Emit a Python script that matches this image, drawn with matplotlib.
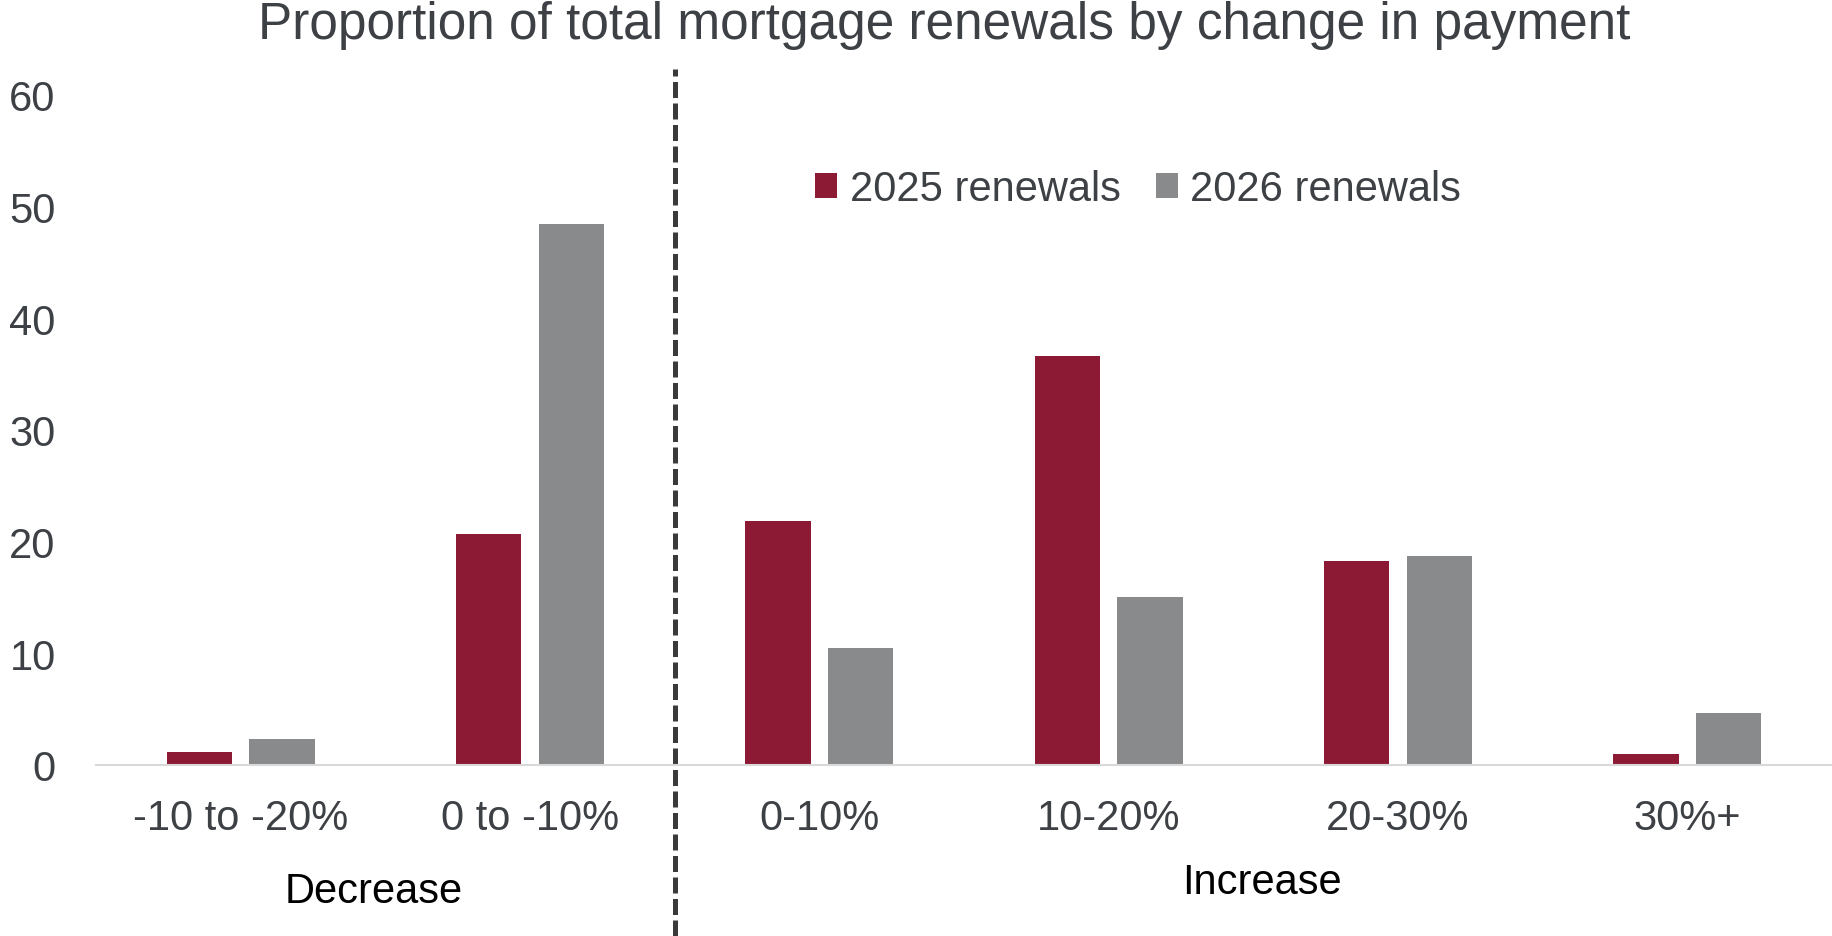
import numpy as np
import matplotlib
matplotlib.use("Agg")
import matplotlib.pyplot as plt

plt.rcParams['font.family'] = ['Liberation Sans', 'DejaVu Sans']

categories = ['-10 to -20%', '0 to -10%', '0-10%', '10-20%', '20-30%', '30%+']
renewals_2025 = [1.2, 20.7, 21.8, 36.6, 18.3, 1.0]
renewals_2026 = [2.3, 48.4, 10.5, 15.0, 18.7, 4.7]
series_labels = ['2025 renewals', '2026 renewals']
group_labels = ['Decrease', 'Increase']

red = '#8C1A35'
grey = '#898A8C'
txt = '#3d4044'

fig = plt.figure(figsize=(18.32, 9.37), dpi=100)
ax = fig.add_axes([96 / 1832, 1 - 766 / 937, 1 - 96 / 1832, (766 - 95.8) / 937])

x = np.arange(len(categories))
w = 0.226
off = 0.143
ax.bar(x - off, renewals_2025, w, color=red, label=series_labels[0])
ax.bar(x + off, renewals_2026, w, color=grey, label=series_labels[1])

ax.set_xlim(-0.5, len(categories) - 0.5)
ax.set_ylim(0, 60)
ax.set_yticks(np.arange(0, 61, 10))
ax.set_xticks(x)
ax.set_xticklabels(categories)
ax.tick_params(axis='both', length=0, labelsize=30, colors=txt)
ax.tick_params(axis='x', pad=24)
ax.tick_params(axis='y', pad=29)
for s in ['top', 'right', 'left']:
    ax.spines[s].set_visible(False)
ax.spines['bottom'].set_color('#d9d9d9')
ax.spines['bottom'].set_linewidth(1.5)

# divider between decrease / increase
ax.axvline(1.5, ymin=-0.255, ymax=1.0385, color='#3a3a3a', lw=3.6,
           linestyle=(0, (3.2, 1.1)), clip_on=False)

fig.text(944 / 1832, 1 - 25 / 937,
         'Proportion of total mortgage renewals by change in payment',
         ha='center', va='center', fontsize=37, color=txt)
fig.text(374 / 1832, 1 - 892 / 937, group_labels[0], ha='center', va='center',
         fontsize=30, color='black')
fig.text(1262 / 1832, 1 - 883 / 937, group_labels[1], ha='center', va='center',
         fontsize=30, color='black')

leg = fig.legend(loc='center left', bbox_to_anchor=(815 / 1832, 1 - 190 / 937),
                 ncol=2, frameon=False, fontsize=30, handlelength=0.53,
                 handleheight=0.53, handletextpad=0.3, columnspacing=0.85,
                 borderaxespad=0, borderpad=0)
for t in leg.get_texts():
    t.set_color(txt)

fig.savefig('out.png', dpi=100)
